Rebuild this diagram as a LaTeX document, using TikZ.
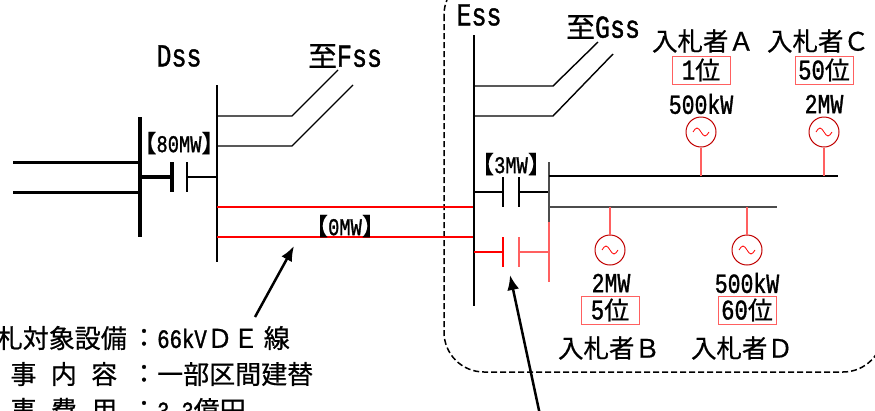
\documentclass[tikz,border=0pt]{standalone}
\usepackage{fontspec}
\setmainfont[FakeBold=0.6]{Noto Sans CJK JP}
\newfontfamily\hw[FakeStretch=0.78, FakeBold=1.2]{Liberation Mono}
\usetikzlibrary{arrows.meta}
\definecolor{lred}{HTML}{FF6060}
\definecolor{dred}{HTML}{C00000}

\begin{document}
\begin{tikzpicture}[x=1pt, y=-1pt,
  bus/.style={line width=2pt},
  mainbus/.style={line width=3.5pt},
  wire/.style={line width=1.4pt},
  redwire/.style={red, line width=2pt},
  lite/.style={lred, line width=1.2pt},
  gen/.style={circle, draw=dred, line width=1pt, minimum size=30pt, inner sep=0},
  rank/.style={draw=lred, line width=0.8pt, minimum width=58pt, minimum height=28pt,
    inner sep=0, font=\fontsize{25}{25}\selectfont},
  lbl/.style={inner sep=0, font=\fontsize{25.5}{25.5}\selectfont},
  ssname/.style={inner sep=0, font=\fontsize{32}{32}\hw},
  mw/.style={inner sep=0, font=\fontsize{27.5}{27.5}\hw},
  flow/.style={inner sep=0, font=\fontsize{24}{24}\selectfont},
  note/.style={inner sep=0, font=\fontsize{26}{26}\selectfont},
  ptr/.style={line width=2.5pt, -{Latex[length=15pt, width=12pt]}}]

  \useasboundingbox (0,0) rectangle (875,410);

  % --- Ess area ---
  \draw[dash pattern=on 6pt off 3pt, line width=1.5pt, rounded corners=40pt] (444,-25) rectangle (883,372);

  % --- Dss ---
  \draw[mainbus] (140,117) -- (140,237);
  \draw[line width=3pt] (13,162) -- (140,162);
  \draw[line width=3pt] (13,192) -- (140,192);
  \draw[mainbus] (140,177) -- (172,177);
  \draw[mainbus] (172,162) -- (172,192);
  \draw[wire] (187,162) -- (187,192);
  \draw[wire] (187,177) -- (217,177);
  \draw[bus] (217,85) -- (217,262);
  \draw[wire] (217,116) -- (292,116) -- (338,70);
  \draw[wire] (217,146) -- (292,146) -- (353,85);
  \node[ssname] (dss) at (179,56) {Dss};
  \node[ssname] (fss) at (345,56) {{\fontsize{29}{29}\rmfamily 至}Fss};
  \node[flow] (b80) at (179,143) {【{\hw 80MW}】};

  % --- DE line ---
  \draw[redwire] (217,207) -- (474,207);
  \draw[redwire] (217,237) -- (474,237);
  \node[flow] (b0) at (345,226) {【{\hw 0MW}】};

  % --- Ess ---
  \draw[bus] (474,35) -- (474,306);
  \node[ssname] (ess) at (479,15) {Ess};
  \draw[wire] (474,86) -- (553,86) -- (598,42);
  \draw[wire] (474,116) -- (553,116) -- (613,54);
  \node[ssname] (gss) at (603,27) {{\fontsize{29}{29}\rmfamily 至}Gss};

  % --- breakers ---
  \draw[wire] (474,192) -- (503,192);
  \draw[wire] (503,177) -- (503,207);
  \draw[line width=1.2pt] (519,177) -- (519,207);
  \draw[line width=1.2pt] (519,192) -- (549,192);
  \node[flow] (b3) at (511,164) {【{\hw 3MW}】};
  \draw[redwire] (474,252) -- (503,252);
  \draw[redwire] (503,237) -- (503,267);
  \draw[lite] (519,237) -- (519,267);
  \draw[lite] (519,252) -- (549,252);

  % --- feeders ---
  \draw[black!70, line width=1.4pt] (549,162) -- (549,222);
  \draw[lite] (549,222) -- (549,282);
  \draw[line width=1.4pt] (549,176) -- (838,176);
  \draw[black!70, line width=1.4pt] (549,207) -- (777,207);
  \coordinate (fu) at (549,176);
  \coordinate (fl) at (549,207);

  % --- generators ---
  \node[gen] (gA) at (701,132) {};
  \node[gen] (gC) at (824,132) {};
  \node[gen] (gB) at (610,250) {};
  \node[gen] (gD) at (747,250) {};
  \foreach \g in {gA,gB,gC,gD}
    \draw[red, line width=0.8pt] ([xshift=-8pt]\g.center) sin ++(4,-4) cos ++(4,4) sin ++(4,4) cos ++(4,-4);
  \draw[lite] (gA) -- (gA |- fu);
  \draw[lite] (gC) -- (gC |- fu);
  \draw[lite] (gB) -- (gB |- fl);
  \draw[lite] (gD) -- (gD |- fl);

  % --- bidders ---
  \node[mw] (kA) at (701,104) {500kW};
  \node[mw] (kC) at (824,104) {2MW};
  \node[mw] (kB) at (611,283) {2MW};
  \node[mw] (kD) at (747,283) {500kW};
  \node[rank] (rA) at (701,70) {{\fontsize{28.5}{28.5}\hw 1}位};
  \node[rank] (rC) at (824,70) {{\fontsize{28.5}{28.5}\hw 50}位};
  \node[rank] (rB) at (610,310) {{\fontsize{28.5}{28.5}\hw 5}位};
  \node[rank] (rD) at (747,310) {{\fontsize{28.5}{28.5}\hw 60}位};
  \node[lbl] (nA) at (703,41) {入札者Ａ};
  \node[lbl] (nC) at (818,41) {入札者Ｃ};
  \node[lbl] (nB) at (609,348) {入札者Ｂ};
  \node[lbl] (nD) at (742,348) {入札者Ｄ};

  % --- notes ---
  \node[note, anchor=east] (t1) at (127,338) {入札対象設備};
  \node[note] (c1) at (144,338) {：};
  \node[note, anchor=west] (v1) at (157,338) {{\fontsize{26.5}{26.5}\hw 66kV}ＤＥ\hspace{5pt}線};
  \node[note, anchor=west] (t2) at (-30,374) {\makebox[147pt]{工\hfill 事\hfill 内\hfill 容}};
  \node[note] (c2) at (144,374) {：};
  \node[note, anchor=west] (v2) at (157,374) {一部区間建替};
  \node[note, anchor=west] (t3) at (-30,410) {\makebox[147pt]{工\hfill 事\hfill 費\hfill 用}};
  \node[note] (c3) at (144,410) {：};
  \node[note, anchor=west] (v3) at (157,410) {{\hw 3.3}億円};

  % --- pointers ---
  \coordinate (p1) at (255,317);
  \coordinate (q1) at (294,246);
  \draw[ptr] (p1) -- (q1);
  \coordinate (p2) at (540,415);
  \coordinate (q2) at (510,275);
  \draw[ptr] (p2) -- (q2);

\end{tikzpicture}
\end{document}
